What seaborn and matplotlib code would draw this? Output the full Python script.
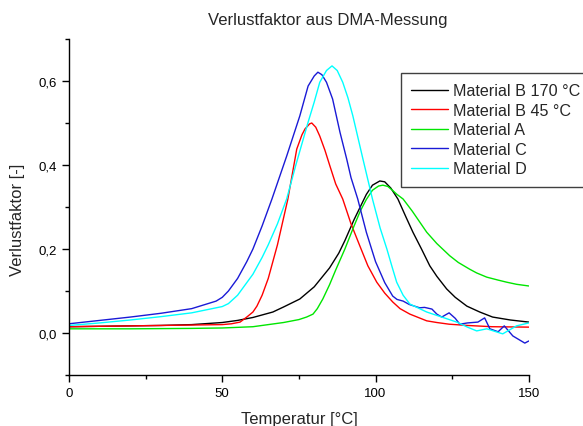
import matplotlib
matplotlib.use("Agg")
import matplotlib.pyplot as plt
import seaborn as sns
from matplotlib.ticker import FuncFormatter, MultipleLocator

# values
b170_t = [0, 10, 20, 30, 40, 50, 55, 60, 66.5, 70, 75.3, 80, 85, 88, 90, 93, 95, 97, 99,
          101.4, 103, 105, 107.3, 110, 112.2, 115, 117.7, 120, 123.2, 126, 129.8, 134,
          138.2, 144, 150]
b170_v = [0.015, 0.016, 0.017, 0.018, 0.02, 0.025, 0.03, 0.037, 0.05, 0.062, 0.081, 0.11,
          0.155, 0.19, 0.22, 0.27, 0.3, 0.33, 0.352, 0.362, 0.36, 0.345, 0.319, 0.275,
          0.24, 0.2, 0.16, 0.135, 0.105, 0.085, 0.064, 0.05, 0.038, 0.031, 0.026]

b45_t = [0, 10, 20, 30, 40, 50, 53, 55.8, 58, 60, 61.3, 63, 65, 68, 71.4, 74.3, 76, 77,
         78.5, 79.2, 80.5, 81.8, 83.5, 85.1, 87, 89.3, 92, 94.9, 97.5, 100.4, 103, 105.6,
         108, 111.2, 116.7, 120, 124, 130, 138, 150]
b45_v = [0.015, 0.016, 0.017, 0.018, 0.019, 0.02, 0.022, 0.026, 0.038, 0.05, 0.064, 0.09,
         0.13, 0.21, 0.319, 0.438, 0.472, 0.486, 0.498, 0.5, 0.49, 0.469, 0.435, 0.398,
         0.355, 0.319, 0.26, 0.207, 0.16, 0.121, 0.095, 0.074, 0.058, 0.045, 0.029, 0.025,
         0.021, 0.018, 0.015, 0.014]

a_t = [0, 20, 40, 50, 60, 70, 75, 77.5, 79.6, 81, 82.8, 85, 87, 90, 93, 95, 97, 99, 101,
       102.4, 104, 105.5, 107, 109, 112, 116.7, 120, 124.2, 127, 130.7, 133, 136.3, 140,
       142.8, 146, 150]
a_v = [0.01, 0.01, 0.011, 0.012, 0.015, 0.025, 0.032, 0.038, 0.045, 0.058, 0.081, 0.115,
       0.15, 0.2, 0.255, 0.29, 0.318, 0.34, 0.35, 0.352, 0.349, 0.34, 0.33, 0.319, 0.29,
       0.24, 0.213, 0.184, 0.168, 0.152, 0.143, 0.133, 0.126, 0.121, 0.116, 0.112]

c_t = [0, 10, 20, 30, 40, 48, 50, 52, 55, 58, 60, 63, 66.2, 71, 75.3, 78, 80, 81.2, 82.5,
       84, 86, 88.4, 90.6, 92, 94.2, 97, 100, 103, 105.6, 107, 109, 111, 114.4, 116,
       118.4, 120, 121.6, 124, 126, 127.5, 130, 133.4, 135.6, 137.3, 140, 142, 144.8,
       148.7, 150]
c_v = [0.022, 0.03, 0.038, 0.047, 0.058, 0.076, 0.085, 0.1, 0.13, 0.17, 0.2, 0.255, 0.319,
       0.421, 0.517, 0.588, 0.612, 0.621, 0.615, 0.597, 0.557, 0.478, 0.414, 0.37, 0.319,
       0.24, 0.17, 0.12, 0.088, 0.08, 0.076, 0.068, 0.06, 0.061, 0.057, 0.045, 0.038,
       0.048, 0.035, 0.021, 0.024, 0.026, 0.036, 0.01, 0.003, 0.017, -0.007, -0.024,
       -0.019]

d_t = [0, 10, 20, 30, 40, 50, 52, 55, 58, 60, 63, 65, 68, 71, 74, 78, 80, 81.8, 84, 85.8,
       87.5, 89.3, 91, 92.6, 95.9, 99, 101.5, 103.7, 105.5, 106.9, 109, 111.2, 116.7,
       121.6, 126.5, 130, 133, 136.3, 141.5, 146, 150]
d_v = [0.018, 0.024, 0.031, 0.039, 0.048, 0.063, 0.07, 0.09, 0.12, 0.14, 0.18, 0.21, 0.26,
       0.319, 0.4, 0.502, 0.55, 0.597, 0.625, 0.636, 0.625, 0.597, 0.56, 0.517, 0.414,
       0.319, 0.25, 0.2, 0.155, 0.121, 0.09, 0.069, 0.05, 0.038, 0.026, 0.014, 0.005,
       0.01, -0.002, 0.017, 0.024]

series = [
    ("Material B 170 °C", b170_t, b170_v, "black"),
    ("Material B 45 °C", b45_t, b45_v, "#ff0000"),
    ("Material A", a_t, a_v, "#00e600"),
    ("Material C", c_t, c_v, "#1a1ad6"),
    ("Material D", d_t, d_v, "#00ffff"),
]

sns.set_style("ticks")
plt.rcParams["font.family"] = ["Liberation Sans", "DejaVu Sans"]

fig = plt.figure(figsize=(5.83, 4.27), dpi=100)
ax = fig.add_axes([0.1184, 0.1194, 0.7886, 0.7869])

for name, t, v, col in series:
    sns.lineplot(x=t, y=v, ax=ax, color=col, label=name, linewidth=1.0,
                 sort=False, estimator=None)

ax.set_xlim(0, 150)
ax.set_ylim(-0.1, 0.7)
ax.xaxis.set_major_locator(MultipleLocator(50))
ax.xaxis.set_minor_locator(MultipleLocator(25))
ax.yaxis.set_major_locator(MultipleLocator(0.2))
ax.yaxis.set_minor_locator(MultipleLocator(0.1))
ax.yaxis.set_major_formatter(FuncFormatter(lambda v, p: f"{v:.1f}".replace(".", ",")))
ax.xaxis.set_major_formatter(FuncFormatter(lambda v, p: f"{v:.0f}"))
ax.tick_params(which="major", direction="out", length=5, width=1, labelsize=9.5,
               color="black", labelcolor="black")
ax.tick_params(which="minor", direction="out", length=3, width=1, color="black")
for s in ("top", "right"):
    ax.spines[s].set_visible(False)
for s in ("left", "bottom"):
    ax.spines[s].set_color("black")
    ax.spines[s].set_linewidth(1.0)

ax.set_xlabel("")
ax.set_ylabel("")

fig.text(328 / 583, 1 - 20 / 427, "Verlustfaktor aus DMA-Messung", ha="center",
         va="center", fontsize=12)
fig.text(299 / 583, 1 - 420 / 427, "Temperatur [°C]", ha="center", va="center",
         fontsize=12)
fig.text(18 / 583, 1 - 220 / 427, "Verlustfaktor [-]", ha="center", va="center",
         rotation=90, fontsize=12)

leg = ax.legend(loc="upper left", bbox_to_anchor=(0.7217, 0.899), borderaxespad=0,
                fontsize=11.6, frameon=True, fancybox=False, framealpha=1,
                edgecolor="#404040", handlelength=2.3, handletextpad=0.3,
                labelspacing=0.28, borderpad=0.65)
leg.get_frame().set_linewidth(1.0)

fig.savefig("out.png", dpi=100)
